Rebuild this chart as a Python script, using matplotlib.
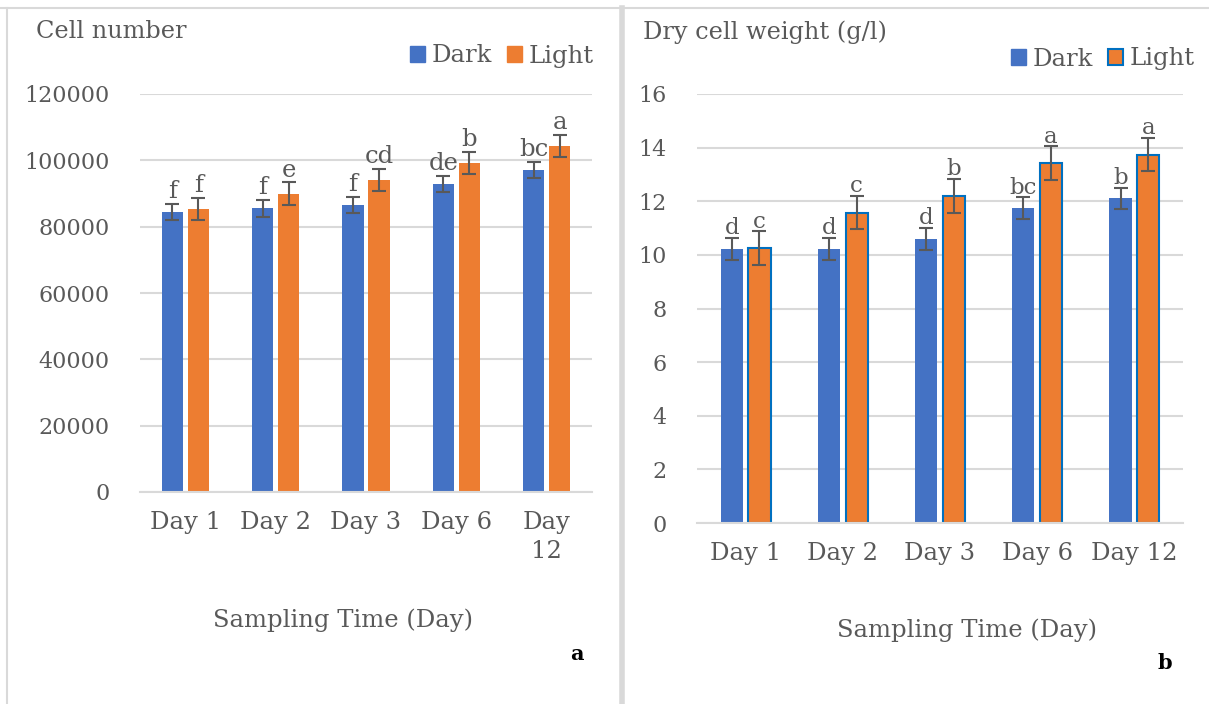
import numpy as np
import matplotlib.pyplot as plt
from matplotlib.patches import Rectangle
from matplotlib.lines import Line2D

days_a = ['Day 1', 'Day 2', 'Day 3', 'Day 6', 'Day\n12']
days_b = ['Day 1', 'Day 2', 'Day 3', 'Day 6', 'Day 12']

# panel a : cell number
cell_dark = [84400, 85600, 86500, 92900, 97100]
cell_light = [85300, 89900, 94100, 99200, 104300]
cell_dark_err = [2500, 2550, 2500, 2500, 2500]
cell_light_err = [3300, 3500, 3400, 3300, 3400]
cell_dark_lbl = ['f', 'f', 'f', 'de', 'bc']
cell_light_lbl = ['f', 'e', 'cd', 'b', 'a']

# panel b : dry cell weight
dcw_dark = [10.22, 10.23, 10.59, 11.75, 12.11]
dcw_light = [10.26, 11.58, 12.21, 13.42, 13.74]
dcw_dark_err = [0.41, 0.41, 0.41, 0.40, 0.40]
dcw_light_err = [0.62, 0.61, 0.63, 0.63, 0.63]
dcw_dark_lbl = ['d', 'd', 'd', 'bc', 'b']
dcw_light_lbl = ['c', 'c', 'b', 'a', 'a']

BLUE = '#4472C4'
ORANGE = '#ED7D31'
EDGE = '#0070C0'
TXT = '#595959'
GRID = '#D9D9D9'
FONT = 'DejaVu Serif'

plt.rcParams['font.family'] = FONT

W, H = 1209, 704
fig = plt.figure(figsize=(W / 100, H / 100), dpi=100)


def px_axes(x0, y0, x1, y1):
    # pixel box (top-left origin) -> figure fraction
    return fig.add_axes([x0 / W, 1 - y1 / H, (x1 - x0) / W, (y1 - y0) / H])


def draw_panel(ax, labels, dark, light, derr, lerr, dl, ll, ymax, step, off, width,
               light_edge, lbl_pad, fs):
    x = np.arange(len(labels))
    ax.bar(x - off, dark, width, color=BLUE, zorder=2)
    if light_edge:
        ax.bar(x + off, light, width, color=ORANGE, edgecolor=EDGE, linewidth=1.5, zorder=2)
    else:
        ax.bar(x + off, light, width, color=ORANGE, zorder=2)
    ax.errorbar(x - off, dark, yerr=derr, fmt='none', ecolor=TXT, elinewidth=1.5,
                capsize=5, capthick=1.5, zorder=3)
    ax.errorbar(x + off, light, yerr=lerr, fmt='none', ecolor=TXT, elinewidth=1.5,
                capsize=5, capthick=1.5, zorder=3)
    for i in range(len(labels)):
        ax.text(x[i] - off, dark[i] + derr[i] + lbl_pad, dl[i], ha='center', va='bottom',
                fontsize=fs, color=TXT, zorder=4)
        ax.text(x[i] + off, light[i] + lerr[i] + lbl_pad, ll[i], ha='center', va='bottom',
                fontsize=fs, color=TXT, zorder=4)
    ax.set_xlim(-0.5, len(labels) - 0.5)
    ax.set_ylim(0, ymax)
    ax.set_yticks(np.arange(0, ymax + step / 2, step))
    ax.set_xticks(x)
    ax.set_xticklabels(labels, fontsize=17.5, color=TXT, linespacing=1.3)
    ax.tick_params(axis='y', labelsize=16, labelcolor=TXT, length=0, pad=22)
    ax.tick_params(axis='x', length=0, pad=14)
    ax.grid(axis='y', color=GRID, linewidth=1.5, zorder=0)
    ax.set_axisbelow(True)
    for s in ['top', 'right', 'left']:
        ax.spines[s].set_visible(False)
    ax.spines['bottom'].set_color(GRID)
    ax.spines['bottom'].set_linewidth(1.5)


ax1 = px_axes(140, 94, 592, 492)
draw_panel(ax1, days_a, cell_dark, cell_light, cell_dark_err, cell_light_err,
           cell_dark_lbl, cell_light_lbl, 120000, 20000, 0.144, 0.235, False, 200, 17.5)

ax2 = px_axes(697, 94, 1183, 523)
draw_panel(ax2, days_b, dcw_dark, dcw_light, dcw_dark_err, dcw_light_err,
           dcw_dark_lbl, dcw_light_lbl, 16, 2, 0.143, 0.23, True, -0.05, 16.5)

# panel frames
fig.add_artist(Line2D([0, 1], [1 - 8 / H, 1 - 8 / H], color=GRID, lw=1.5))
fig.add_artist(Line2D([7 / W, 7 / W], [0, 1 - 8 / H], color=GRID, lw=1.5))
fig.add_artist(Line2D([622 / W, 622 / W], [0, 1 - 8 / H], color=GRID, lw=4))

# titles / axis labels
fig.text(36 / W, 1 - 32 / H, 'Cell number', fontsize=17.3, color=TXT, va='center', ha='left')
fig.text(643 / W, 1 - 32 / H, 'Dry cell weight (g/l)', fontsize=17.3, color=TXT, va='center', ha='left')
fig.text(343 / W, 1 - 620 / H, 'Sampling Time (Day)', fontsize=17.5, color=TXT, va='center', ha='center')
fig.text(967 / W, 1 - 630 / H, 'Sampling Time (Day)', fontsize=17.5, color=TXT, va='center', ha='center')
fig.text(577 / W, 1 - 654 / H, 'a', fontsize=15, color='black', weight='bold', va='center', ha='center')
fig.text(1165 / W, 1 - 663 / H, 'b', fontsize=15, color='black', weight='bold', va='center', ha='center')

# legends
h1 = [Rectangle((0, 0), 1, 1, color=BLUE), Rectangle((0, 0), 1, 1, color=ORANGE)]
fig.legend(h1, ['Dark', 'Light'], loc='center right', bbox_to_anchor=(594 / W, 1 - 56 / H),
           ncol=2, frameon=False, fontsize=17.5, labelcolor=TXT, handlelength=0.6,
           handleheight=0.6, handletextpad=0.3, columnspacing=0.6, borderaxespad=0,
           borderpad=0)
h2 = [Rectangle((0, 0), 1, 1, color=BLUE),
      Rectangle((0, 0), 1, 1, facecolor=ORANGE, edgecolor=EDGE, linewidth=1.5)]
fig.legend(h2, ['Dark', 'Light'], loc='center right', bbox_to_anchor=(1195 / W, 1 - 59 / H),
           ncol=2, frameon=False, fontsize=17.5, labelcolor=TXT, handlelength=0.6,
           handleheight=0.6, handletextpad=0.3, columnspacing=0.6, borderaxespad=0,
           borderpad=0)

fig.savefig('out.png', dpi=100)
